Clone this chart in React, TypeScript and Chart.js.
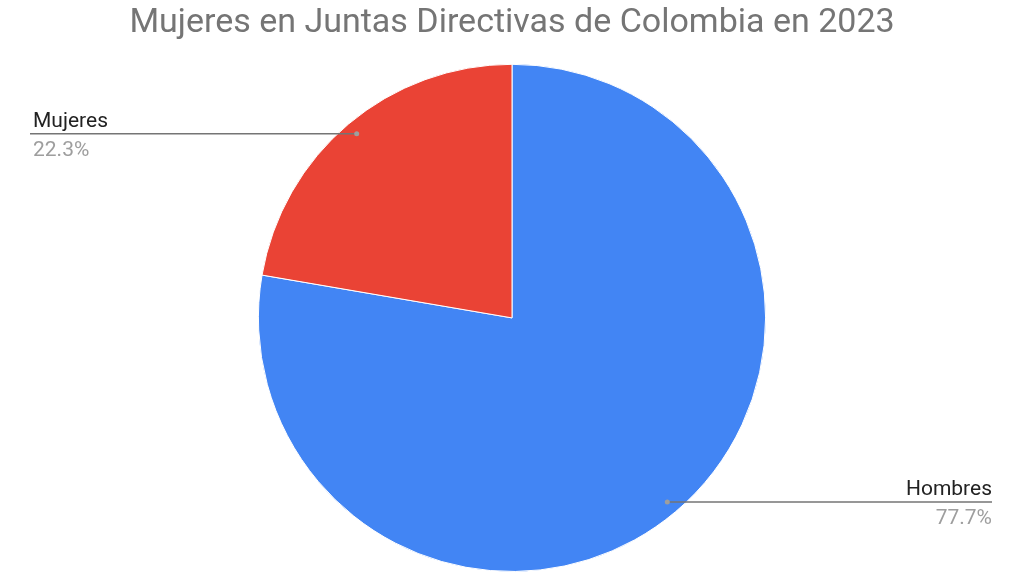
import { useEffect, useRef } from 'react'
import { Chart, registerables, Plugin } from 'chart.js'

Chart.register(...registerables)

const TITLE = 'Mujeres en Juntas Directivas de Colombia en 2023'
const LABELS = ['Hombres', 'Mujeres']
const VALUES = [77.7, 22.3]
const COLORS = ['#4285F4', '#EA4335']

const FONT = 'Roboto, Arial, sans-serif'

// leader lines with name + percentage, Google-Sheets style
const leaderLabels: Plugin<'pie'> = {
  id: 'leaderLabels',
  afterDraw(chart) {
    const ctx = chart.ctx
    const meta = chart.getDatasetMeta(0)
    const total = VALUES.reduce((a, b) => a + b, 0)
    meta.data.forEach((el: any, i) => {
      const { x, y, startAngle, endAngle, outerRadius } = el.getProps(
        ['x', 'y', 'startAngle', 'endAngle', 'outerRadius'], true)
      const mid = (startAngle + endAngle) / 2
      const px = x + Math.cos(mid) * outerRadius * 0.95
      const py = y + Math.sin(mid) * outerRadius * 0.95
      const left = Math.cos(mid) < 0
      const endX = left ? 30 : chart.width - 32
      const pct = ((VALUES[i] / total) * 100).toFixed(1) + '%'

      ctx.save()
      ctx.strokeStyle = '#757575'
      ctx.lineWidth = 1.5
      ctx.beginPath()
      ctx.moveTo(px, py)
      ctx.lineTo(endX, py)
      ctx.stroke()
      ctx.fillStyle = '#9e9e9e'
      ctx.beginPath()
      ctx.arc(px, py, 2.5, 0, Math.PI * 2)
      ctx.fill()

      ctx.textAlign = left ? 'left' : 'right'
      const tx = left ? endX + 3 : endX
      ctx.font = `21px ${FONT}`
      ctx.textBaseline = 'alphabetic'
      ctx.fillStyle = '#222222'
      ctx.fillText(LABELS[i], tx, py - 7)
      ctx.fillStyle = '#9e9e9e'
      ctx.fillText(pct, tx, py + 22)
      ctx.restore()
    })
  },
}

export default function App() {
  const canvasRef = useRef<HTMLCanvasElement>(null)
  const chartRef = useRef<Chart<'pie'> | null>(null)

  useEffect(() => {
    if (!canvasRef.current) return
    chartRef.current?.destroy()

    chartRef.current = new Chart(canvasRef.current, {
      type: 'pie',
      data: {
        labels: LABELS,
        datasets: [{
          data: VALUES,
          backgroundColor: COLORS,
          borderColor: '#ffffff',
          borderWidth: 1,
        }],
      },
      options: {
        responsive: true,
        maintainAspectRatio: false,
        animation: false,
        layout: { padding: { top: 0, bottom: 4 } },
        plugins: {
          legend: { display: false },
          tooltip: { enabled: false },
          title: {
            display: true,
            text: TITLE,
            color: '#757575',
            font: { family: FONT, size: 34, weight: 'normal', lineHeight: 1.2 },
            padding: { top: 3, bottom: 20 },
          },
        },
      },
      plugins: [leaderLabels],
    })

    return () => {
      chartRef.current?.destroy()
      chartRef.current = null
    }
  }, [])

  return (
    <div style={{ position: 'fixed', inset: 0, width: 1024, height: 576, background: '#ffffff' }}>
      <canvas ref={canvasRef} />
    </div>
  )
}
